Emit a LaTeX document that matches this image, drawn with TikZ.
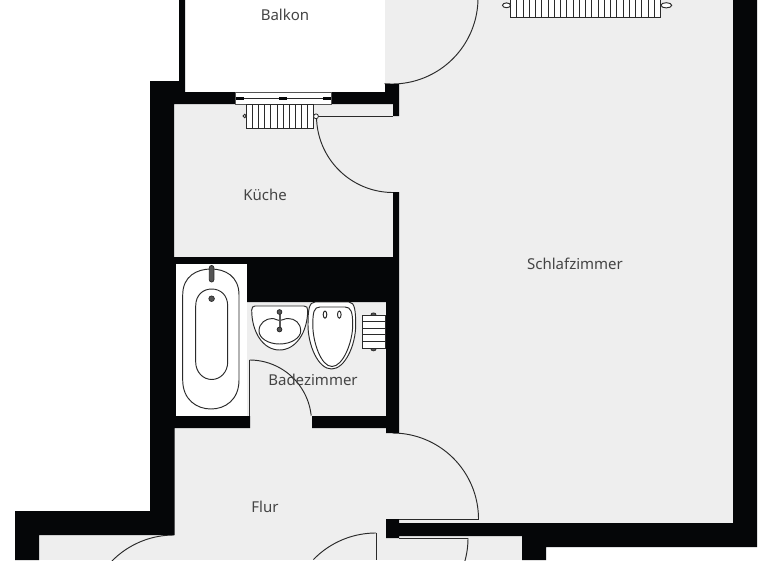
\documentclass[tikz,border=0pt]{standalone}
\usepackage{fontspec}
\setmainfont{Noto Sans}
\definecolor{wallc}{HTML}{050608}
\definecolor{floorc}{HTML}{EEEEEE}
\definecolor{linec}{HTML}{2A2A2A}
\definecolor{labelc}{HTML}{444444}
\definecolor{knobc}{HTML}{555555}
\tikzset{
  wall/.style={fill=wallc,draw=none},
  floorarea/.style={fill=floorc,draw=none},
  thinline/.style={draw=linec,line width=0.95pt},
  fixture/.style={draw=linec,line width=0.95pt,fill=white},
  knob/.style={draw=linec,line width=0.7pt,fill=knobc},
  roomlabel/.style={text=labelc,font=\fontsize{15}{17}\selectfont,inner sep=0pt}
}
\newcommand{\doorswing}[5]{\draw[thinline,smooth] plot[domain=#4:#5,samples=50] ({#1+#3*cos(\x)},{#2+#3*sin(\x)});}
\begin{document}
\begin{tikzpicture}[x=1pt,y=-1pt]
\useasboundingbox (0,0) rectangle (768,560);
\clip (0,0) rectangle (768,560);
\fill[white] (0,0) rectangle (768,560);
% floors
\fill[floorarea] (174,104) rectangle (393,257);
\fill[floorarea] (385,0) rectangle (733,523);
\fill[floorarea] (247,302) rectangle (386,416);
\fill[floorarea] (174,416) rectangle (386,535);
\fill[floorarea] (39,535) rectangle (522,560);
% door swings
\doorswing{392}{-2}{86}{95}{-3}
\doorswing{392.5}{519}{86}{-90}{0}
\doorswing{393}{116}{76.5}{180}{90}
\doorswing{249.5}{422}{62}{-90}{-6}
\doorswing{174}{622}{87}{-90}{-136}
\doorswing{376}{620}{87}{-90}{-136}
\doorswing{381}{538}{87}{0}{17}
\draw[thinline] (399,519) -- (479,519);
\draw[thinline] (399,538) -- (468,538);
\draw[thinline] (376,533) -- (376,560);
\draw[thinline] (316,116) -- (393,116);
\draw[thinline] (249.7,360) -- (249.7,416);
% walls
\fill[wall] (179,0) -- (185,0) -- (185,92) -- (236,92) -- (236,104) -- (174,104) -- (174,257) -- (176,257) -- (176,416) -- (150,416) -- (150,81) -- (179,81) -- cycle;
\fill[wall] (331,92) -- (385,92) -- (385,84) -- (399,84) -- (399,116) -- (393,116) -- (393,104) -- (331,104) -- cycle;
\fill[wall] (393,192) -- (399,192) -- (399,433) -- (386,433) -- (386,428) -- (312,428) -- (312,416) -- (386,416) -- (386,302) -- (247,302) -- (247,264) -- (174,264) -- (174,257) -- (393,257) -- cycle;
\fill[wall] (150,416) -- (250,416) -- (250,428) -- (174.5,428) -- (174.5,535) -- (39,535) -- (39,560) -- (15,560) -- (15,511) -- (150,511) -- cycle;
\fill[wall] (733,0) -- (757,0) -- (757,547) -- (546,547) -- (546,560) -- (522,560) -- (522,536) -- (399,536) -- (399,538) -- (386,538) -- (386,519) -- (399,519) -- (399,523) -- (733,523) -- cycle;
% bathroom niche
\fill[white] (176,264) rectangle (247,416);
% window
\filldraw[fill=white,draw=knobc,line width=0.8pt] (235.5,92.5) rectangle (331,104);
\draw[draw=linec,line width=0.8pt] (236,98.3) -- (331,98.3);
\fill[wall] (236,96.5) rectangle (243.5,100.2);
\fill[wall] (279.3,96.5) rectangle (287.3,100.2);
\fill[wall] (323.3,96.5) rectangle (331,100.2);
% kitchen radiator
\filldraw[fixture] (246.7,104.5) rectangle (313.3,128);
\foreach \k in {1,...,10} {\draw[thinline] ({246.7+\k*6.06},104.5) -- ({246.7+\k*6.06},128);}
\filldraw[fill=white,draw=linec,line width=1pt] (244.7,116) circle[radius=1.7];
\filldraw[fill=white,draw=linec,line width=0.8pt] (316,116.3) circle[radius=2.4];
% bedroom radiator
\filldraw[fixture] (510.7,-2) rectangle (660.7,17);
\foreach \k in {1,...,23} {\draw[thinline] ({510.7+\k*6.25},-2) -- ({510.7+\k*6.25},17);}
\filldraw[fixture] (506.5,5.3) ellipse[x radius=4,y radius=2.4];
\filldraw[fixture] (666.3,5.3) ellipse[x radius=5.4,y radius=2.6];
% bathtub
\draw[fixture] (182.7,295) .. controls (182.7,276) and (197,269) .. (211,269) .. controls (225,269) and (239,276) .. (239,295) -- (239,380) .. controls (239,400) and (225,409) .. (211,409) .. controls (197,409) and (182.7,400) .. (182.7,380) -- cycle;
\draw[thinline] (195.7,306) .. controls (195.7,295) and (203,289) .. (211.7,289) .. controls (220.5,289) and (227.7,295) .. (227.7,306) -- (227.7,362) .. controls (227.7,372) and (220.5,379.5) .. (211.7,379.5) .. controls (203,379.5) and (195.7,372) .. (195.7,362) -- cycle;
\filldraw[knob] (211.6,298.7) circle[radius=2.8];
\filldraw[knob,rounded corners=2.2pt] (209.3,265.5) rectangle (213.9,282);
% basin
\draw[fixture] (255,306) -- (304,306) .. controls (306.5,306) and (307.7,307.5) .. (307.7,310) .. controls (307.7,332) and (296,350) .. (279.5,350) .. controls (263,350) and (251.7,332) .. (251.7,310) .. controls (251.7,307.5) and (253,306) .. (255,306) -- cycle;
\draw[thinline] (259,331) .. controls (259,323) and (266,318.5) .. (272,318.5) .. controls (276,318.5) and (276,320.5) .. (279.5,320.5) .. controls (283,320.5) and (284,318.5) .. (288,318.5) .. controls (295,318.5) and (300.7,323) .. (300.7,331) .. controls (300.7,338) and (291,344) .. (279.5,344) .. controls (268,344) and (259,338) .. (259,331) -- cycle;
\draw[draw=knobc,line width=2pt] (279.5,312) -- (279.5,329);
\filldraw[knob] (279.5,312) circle[radius=2.4];
\filldraw[knob] (279.5,329.5) circle[radius=2.4];
% toilet
\draw[fixture] (308,325) .. controls (308,310) and (309,302) .. (315,302) -- (349,302) .. controls (355,302) and (355.7,312) .. (355.7,325) .. controls (355.7,345) and (345,369) .. (331.5,369) .. controls (318,369) and (308,345) .. (308,325) -- cycle;
\draw[thinline] (312.8,325) .. controls (312.8,312) and (314,307) .. (320,307) -- (345,307) .. controls (351,307) and (352.7,312) .. (352.7,325) .. controls (352.7,342) and (343,366.5) .. (332,366.5) .. controls (321,366.5) and (312.8,342) .. (312.8,325) -- cycle;
\draw[thinline] (325,314.6) ellipse[x radius=1.8,y radius=3.6];
\draw[thinline] (339.3,314.6) ellipse[x radius=1.8,y radius=3.6];
% towel radiator
\filldraw[knob] (373.5,314.3) ellipse[x radius=2.4,y radius=1.4];
\filldraw[knob] (373.5,349.3) ellipse[x radius=2.4,y radius=1.6];
\filldraw[fixture] (362,315.5) rectangle (385.5,348);
\foreach \yy in {321.9,328.4,334.9,341.4} {\draw[thinline] (362,\yy) -- (385.5,\yy);}
% labels
\node[roomlabel] (balkon) at (285,15) {Balkon};
\node[roomlabel] (kueche) at (265,195) {Küche};
\node[roomlabel] (schlaf) at (575,264) {Schlafzimmer};
\node[roomlabel] (bad) at (313,380) {Badezimmer};
\node[roomlabel] (flur) at (265,507) {Flur};
\end{tikzpicture}
\end{document}
